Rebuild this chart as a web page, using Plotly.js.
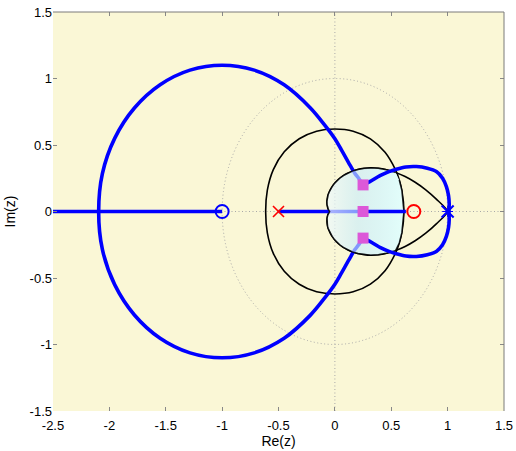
<!DOCTYPE html>
<html><head><meta charset="utf-8">
<script src="https://cdn.plot.ly/plotly-3.0.1.min.js"></script>
<style>html,body{margin:0;padding:0;background:#fff}#chart{width:516px;height:451px}</style>
</head><body><div id="chart"></div>
<script>
// ---- root locus branches (upper halves; locus is symmetric about the real axis) ----
const bigLoopX = [0.249, 0.215, 0.176, 0.12, 0.058, 0.0, -0.083, -0.219, -0.45, -0.715, -1.0, -1.285, -1.55, -1.778, -1.953, -2.062, -2.095];
const bigLoopY = [0.200, 0.245, 0.288, 0.37, 0.463, 0.547, 0.642, 0.781, 0.953, 1.063, 1.100, 1.063, 0.953, 0.778, 0.550, 0.285, 0.0];
const rightLoopX = [0.25, 0.31, 0.40, 0.48, 0.545, 0.63, 0.723, 0.82, 0.90, 0.955, 0.989, 1.008, 1.014, 1.012];
const rightLoopY = [0.20, 0.225, 0.27, 0.30, 0.318, 0.335, 0.338, 0.325, 0.30, 0.25, 0.187, 0.12, 0.06, 0.0];
const realLeftX = [-2.5, -1.0];
const realMidX = [-0.5, 0.25];
const realRightX = [0.25, 0.63];

// ---- poles, zeros, closed-loop poles ----
const redPoleX = [-0.5];
const bluePoleX = [1.0];
const blueZeroX = [-1.0];
const redZeroX = [0.7];
const clPoleX = [0.25, 0.25, 0.25];
const clPoleY = [0.2, 0.0, -0.2];

// ---- design-region contours (upper halves) ----
const outerX = [0.612, 0.594, 0.571, 0.539, 0.445, 0.315, 0.162, 0.0, -0.162, -0.316, -0.449, -0.546, -0.599, -0.614];
const outerY = [0.0, 0.159, 0.237, 0.311, 0.445, 0.546, 0.604, 0.62, 0.604, 0.547, 0.449, 0.315, 0.160, 0.0];
const tdX = [1.0, 0.902, 0.806, 0.712, 0.623, 0.538, 0.458, 0.385, 0.318, 0.258, 0.203, 0.154, 0.112, 0.075, 0.043, 0.016, -0.006, -0.024, -0.039, -0.050, -0.059, -0.065, -0.070, -0.069, -0.064, -0.057, -0.046];
const tdY = [0.0, 0.091, 0.163, 0.220, 0.263, 0.294, 0.314, 0.325, 0.328, 0.324, 0.316, 0.303, 0.287, 0.270, 0.250, 0.229, 0.208, 0.187, 0.167, 0.147, 0.128, 0.110, 0.078, 0.052, 0.030, 0.014, 0.0];

const xTickVals = [-2.5, -2, -1.5, -1, -0.5, 0, 0.5, 1, 1.5];
const xTickText = ['-2.5', '-2', '-1.5', '-1', '-0.5', '0', '0.5', '1', '1.5'];
const yTickVals = [-1.5, -1, -0.5, 0, 0.5, 1, 1.5];
const yTickText = ['-1.5', '-1', '-0.5', '0', '0.5', '1', '1.5'];

const neg = a => a.map(v => -v);
const rev = a => a.slice().reverse();
// close an upper-half curve (ending on the real axis) with its mirror image
const closeX = x => x.concat(rev(x.slice(0, -1)));
const closeY = y => y.concat(rev(neg(y.slice(0, -1))));
const zeros = a => a.map(() => 0);

const BLUE = 'rgb(0,0,255)';
const LW = 3.6;

// shaded region: inner part of the damping curve + right arc of the outer contour
const cut = tdX.findIndex(v => v < 0.55);
const tdUx = tdX.slice(cut), tdUy = tdY.slice(cut);
const arcI = outerX.map((v, i) => i).filter(i => outerX[i] > 0.55);
const fillX = tdUx.concat(rev(tdUx.slice(0, -1)), rev(arcI).map(i => outerX[i]), arcI.slice(1).map(i => outerX[i]));
const fillY = tdUy.concat(rev(neg(tdUy.slice(0, -1))), rev(arcI).map(i => -outerY[i]), arcI.slice(1).map(i => outerY[i]));

const traces = [
  // black contours
  {x: closeX(outerX), y: closeY(outerY), mode: 'lines', line: {color: '#000', width: 1.6, shape: 'spline', smoothing: 1}},
  {x: closeX(tdX), y: closeY(tdY), mode: 'lines', line: {color: '#000', width: 1.6, shape: 'spline', smoothing: 0.6}},
  // left-side locus (beneath the shaded region)
  {x: closeX(bigLoopX), y: closeY(bigLoopY),
   mode: 'lines', line: {color: BLUE, width: LW, shape: 'spline', smoothing: 1}},
  {x: realLeftX, y: zeros(realLeftX), mode: 'lines', line: {color: BLUE, width: LW}},
  {x: realMidX, y: zeros(realMidX), mode: 'lines', line: {color: BLUE, width: LW}},
  // shaded region
  {x: fillX, y: fillY, mode: 'lines', fill: 'toself',
   line: {color: 'rgba(0,0,0,0.85)', width: 1.4},
   fillgradient: {type: 'horizontal', colorscale: [
     [0, 'rgba(240,250,252,0.72)'], [0.4, 'rgba(200,236,252,0.64)'], [1, 'rgba(224,255,255,0.9)']]}},
  // right-side locus
  {x: rightLoopX, y: rightLoopY, mode: 'lines', line: {color: BLUE, width: LW, shape: 'spline', smoothing: 0.6}},
  {x: rightLoopX, y: neg(rightLoopY), mode: 'lines', line: {color: BLUE, width: LW, shape: 'spline', smoothing: 0.6}},
  {x: realRightX, y: zeros(realRightX), mode: 'lines', line: {color: BLUE, width: LW}},
  // markers
  {x: blueZeroX, y: zeros(blueZeroX), mode: 'markers', marker: {symbol: 'circle-open', size: 13, color: BLUE, line: {width: 2, color: BLUE}}},
  {x: redZeroX, y: zeros(redZeroX), mode: 'markers', marker: {symbol: 'circle-open', size: 13, color: 'red', line: {width: 2, color: 'red'}}},
  {x: redPoleX, y: zeros(redPoleX), mode: 'markers', marker: {symbol: 'x-thin-open', size: 11, color: 'red', line: {width: 1.6, color: 'red'}}},
  {x: bluePoleX, y: zeros(bluePoleX), mode: 'markers', marker: {symbol: 'x-thin-open', size: 12, color: BLUE, line: {width: 2, color: BLUE}}},
  {x: bluePoleX, y: zeros(bluePoleX), mode: 'markers', marker: {symbol: 'asterisk-open', size: 9, color: BLUE, line: {width: 1, color: BLUE}}},
  {x: clPoleX, y: clPoleY, mode: 'markers', marker: {symbol: 'square', size: 11, color: '#DC58D8', line: {width: 0}}}
];
traces.forEach(t => { t.type = 'scatter'; t.hoverinfo = 'skip'; t.showlegend = false; });

const FONT = 'Liberation Sans, Arial, Helvetica, sans-serif';
const axisCommon = {
  showgrid: false, zeroline: false, showline: false, mirror: 'ticks',
  ticks: 'inside', ticklen: 4, tickwidth: 1, tickcolor: '#888',
  tickfont: {family: FONT, size: 13, color: '#000'}, tickmode: 'array'
};
const DOT = {color: '#a8a8a8', width: 1, dash: '1px,2.5px'};
const layout = {
  width: 516, height: 451,
  margin: {l: 53, r: 12, t: 12, b: 40, pad: 0},
  paper_bgcolor: '#fff', plot_bgcolor: '#FAF7D6',
  showlegend: false,
  xaxis: Object.assign({}, axisCommon, {range: [-2.5, 1.5], tickvals: xTickVals, ticktext: xTickText,
    ticklabelstandoff: 5,
    title: {text: 'Re(z)', font: {family: FONT, size: 14, color: '#000'}, standoff: 0}}),
  yaxis: Object.assign({}, axisCommon, {range: [-1.5, 1.5], tickvals: yTickVals, ticktext: yTickText,
    ticklabelstandoff: 0,
    title: {text: 'Im(z)', font: {family: FONT, size: 14, color: '#000'}, standoff: 10}}),
  shapes: [
    {type: 'circle', xref: 'x', yref: 'y', x0: -1, x1: 1, y0: -1, y1: 1, layer: 'below', line: DOT},
    {type: 'line', xref: 'x', yref: 'paper', x0: 0, x1: 0, y0: 0, y1: 1, layer: 'below', line: DOT},
    {type: 'line', xref: 'paper', yref: 'y', x0: 0, x1: 1, y0: 0, y1: 0, layer: 'below', line: DOT},
    {type: 'line', xref: 'paper', yref: 'paper', x0: 0, x1: 1, y0: 1, y1: 1, layer: 'above', line: {color: '#7a7a7a', width: 1}},
    {type: 'line', xref: 'paper', yref: 'paper', x0: 1, x1: 1, y0: 0, y1: 1, layer: 'above', line: {color: '#7a7a7a', width: 1}}
  ]
};
Plotly.newPlot('chart', traces, layout, {staticPlot: true, displayModeBar: false});
</script>
</body></html>
